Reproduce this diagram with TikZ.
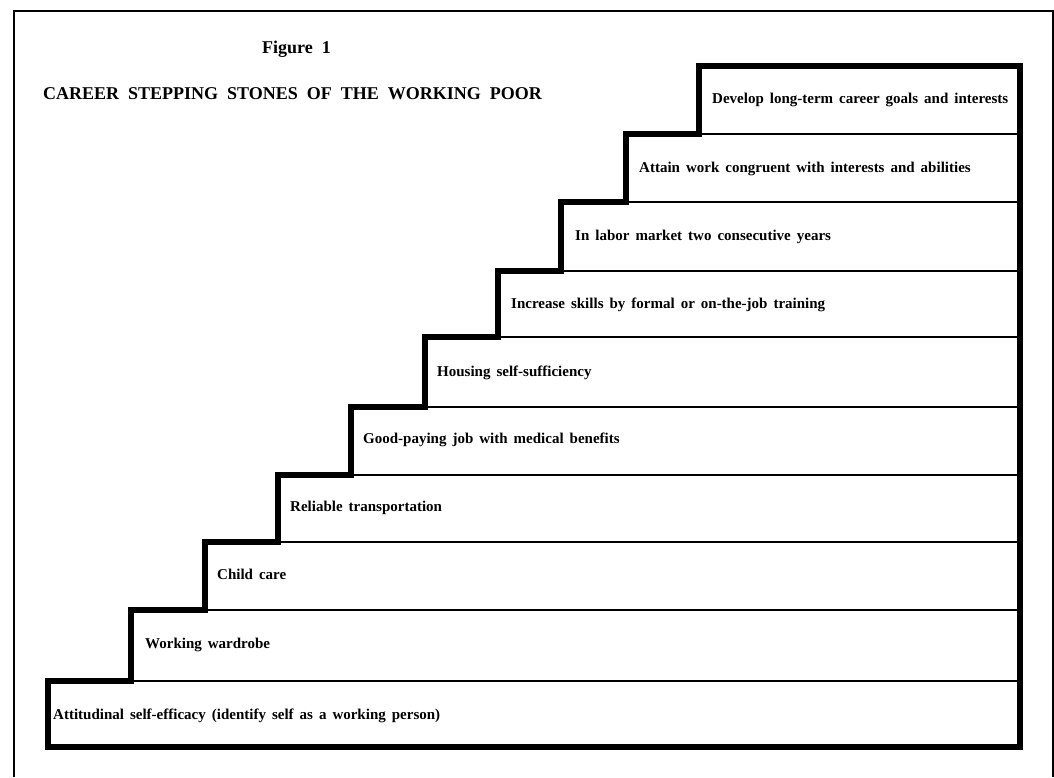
\documentclass[tikz,border=0pt]{standalone}
\usepackage{fontspec}
\setmainfont{Liberation Serif}
\newcommand\steplblfont{\bfseries\fontsize{15}{17}\selectfont\spaceskip=6pt\relax}
\newcommand\steptitlefont{\bfseries\fontsize{18}{20}\selectfont\spaceskip=9pt\relax}
\begin{document}
\begin{tikzpicture}[x=1pt,y=-1pt,
  lbl/.style={anchor=base west,inner sep=0pt,font=\steplblfont},
  ttl/.style={anchor=base west,inner sep=0pt,font=\steptitlefont},
  sep/.style={line width=1.3pt},
  stair/.style={line width=6.5pt,line join=miter},
  frame/.style={line width=1.5pt}]
\useasboundingbox (0,0) rectangle (1054,777);
\fill[white] (0,0) rectangle (1054,777);
% outer frame
\coordinate (fbl) at (14,777);
\coordinate (ftl) at (14,11);
\coordinate (ftr) at (1053,11);
\coordinate (fbr) at (1053,777);
\draw[frame] (fbl) -- (ftl) -- (ftr) -- (fbr);
% titles
\node[ttl] (fig) at (262,53) {Figure 1};
\node[ttl] (title) at (43,99) {CAREER STEPPING STONES OF THE WORKING POOR};
% step corners
\foreach \n/\l/\t in {1/48/681,2/131/610,3/205/542,4/278/475,5/351/407,6/425/337,7/498/271,8/561/202,9/626/134,10/699/66}{
  \coordinate (L\n) at (\l,\t);
  \coordinate (R\n) at (1020,\t);
}
\coordinate (B0) at (48,747);
\coordinate (B1) at (1020,747);
% thin separators
\foreach \n in {1,...,9}{ \draw[sep] (L\n) -- (R\n); }
% thick staircase outline
\draw[stair] (B0) -- (L1) -- (L1 -| L2) -- (L2) -- (L2 -| L3) -- (L3) -- (L3 -| L4) -- (L4)
  -- (L4 -| L5) -- (L5) -- (L5 -| L6) -- (L6) -- (L6 -| L7) -- (L7) -- (L7 -| L8) -- (L8)
  -- (L8 -| L9) -- (L9) -- (L9 -| L10) -- (L10) -- (R10) -- (B1) -- cycle;
% labels
\node[lbl] (s1) at (53,719) {Attitudinal self-efficacy (identify self as a working person)};
\node[lbl] (s2) at (145,648) {Working wardrobe};
\node[lbl] (s3) at (217,579) {Child care};
\node[lbl] (s4) at (290,511) {Reliable transportation};
\node[lbl] (s5) at (363,443) {Good-paying job with medical benefits};
\node[lbl] (s6) at (437,376) {Housing self-sufficiency};
\node[lbl] (s7) at (511,308) {Increase skills by formal or on-the-job training};
\node[lbl] (s8) at (575,240) {In labor market two consecutive years};
\node[lbl] (s9) at (639,172) {Attain work congruent with interests and abilities};
\node[lbl] (s10) at (712,103) {Develop long-term career goals and interests};
\end{tikzpicture}
\end{document}
